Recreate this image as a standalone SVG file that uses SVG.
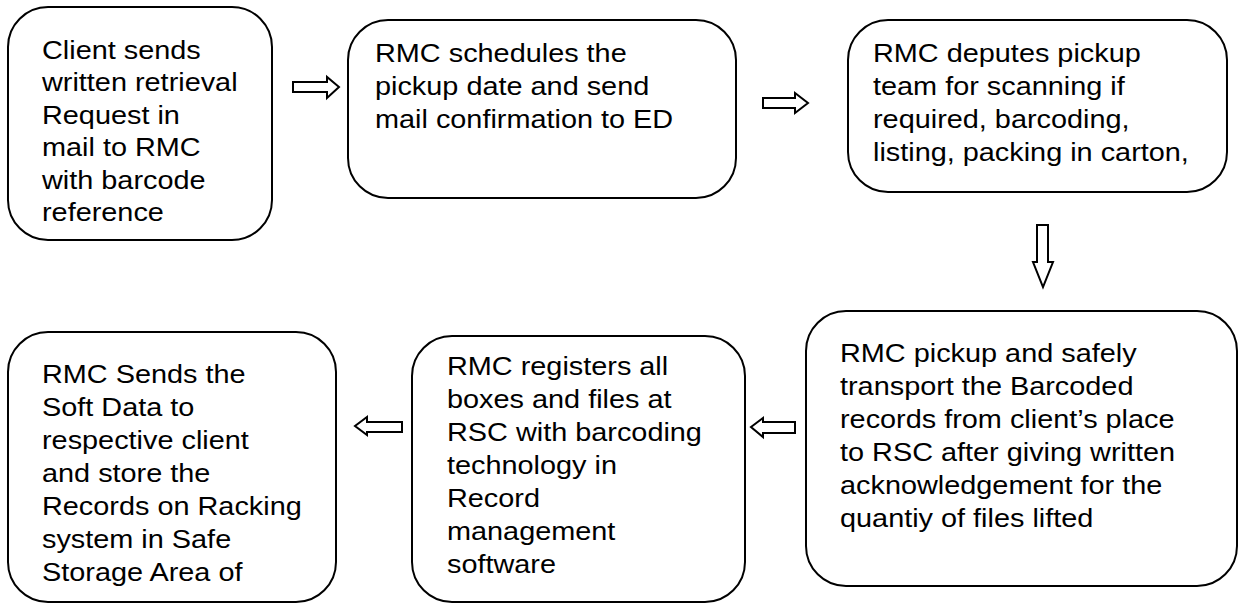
<svg xmlns="http://www.w3.org/2000/svg" width="1239" height="604" viewBox="0 0 1239 604">
<style>
.box{fill:#fff;stroke:#000;stroke-width:2}
.t{font-family:"Liberation Sans",Arial,sans-serif;font-size:26px;fill:#000}
.arr{fill:#fff;stroke:#000;stroke-width:2;stroke-linejoin:miter}
</style>
<rect width="1239" height="604" fill="#fff"/>
<g id="node1"><rect class="box" x="8" y="7" width="264" height="233" rx="40"/>
<text class="t" transform="translate(42,59) scale(1.11,1)"><tspan x="0" y="0">Client sends</tspan><tspan x="0" dy="32.5">written retrieval</tspan><tspan x="0" dy="32.5">Request in</tspan><tspan x="0" dy="32.5">mail to RMC</tspan><tspan x="0" dy="32.5">with barcode</tspan><tspan x="0" dy="32.5">reference</tspan></text></g>
<g id="node2"><rect class="box" x="348" y="20" width="388" height="178" rx="40"/>
<text class="t" transform="translate(375,62) scale(1.11,1)"><tspan x="0" y="0">RMC schedules the</tspan><tspan x="0" dy="33">pickup date and send</tspan><tspan x="0" dy="33">mail confirmation to ED</tspan></text></g>
<g id="node3"><rect class="box" x="848" y="20" width="379" height="172" rx="40"/>
<text class="t" transform="translate(873,62) scale(1.11,1)"><tspan x="0" y="0">RMC deputes pickup</tspan><tspan x="0" dy="33">team for scanning if</tspan><tspan x="0" dy="33">required, barcoding,</tspan><tspan x="0" dy="33">listing, packing in carton,</tspan></text></g>
<g id="node4"><rect class="box" x="806" y="311" width="431" height="275" rx="40"/>
<text class="t" transform="translate(840,362) scale(1.11,1)"><tspan x="0" y="0">RMC pickup and safely</tspan><tspan x="0" dy="33">transport the Barcoded</tspan><tspan x="0" dy="33">records from client’s place</tspan><tspan x="0" dy="33">to RSC after giving written</tspan><tspan x="0" dy="33">acknowledgement for the</tspan><tspan x="0" dy="33">quantiy of files lifted</tspan></text></g>
<g id="node5"><rect class="box" x="412" y="336" width="333" height="266" rx="40"/>
<text class="t" transform="translate(447,375) scale(1.11,1)"><tspan x="0" y="0">RMC registers all</tspan><tspan x="0" dy="33">boxes and files at</tspan><tspan x="0" dy="33">RSC with barcoding</tspan><tspan x="0" dy="33">technology in</tspan><tspan x="0" dy="33">Record</tspan><tspan x="0" dy="33">management</tspan><tspan x="0" dy="33">software</tspan></text></g>
<g id="node6"><rect class="box" x="8" y="332" width="328" height="270" rx="40"/>
<text class="t" transform="translate(42,383) scale(1.11,1)"><tspan x="0" y="0">RMC Sends the</tspan><tspan x="0" dy="33">Soft Data to</tspan><tspan x="0" dy="33">respective client</tspan><tspan x="0" dy="33">and store the</tspan><tspan x="0" dy="33">Records on Racking</tspan><tspan x="0" dy="33">system in Safe</tspan><tspan x="0" dy="33">Storage Area of</tspan></text></g>
<g id="connectors">
<polygon class="arr" points="293,82 327,82 327,77 339,87 327,98 327,92 293,92"/>
<polygon class="arr" points="763,98 795,98 795,93 808,103 795,113 795,108 763,108"/>
<polygon class="arr" points="1037,225 1048,225 1048,262 1053,262 1043,287 1033,262 1037,262"/>
<polygon class="arr" points="795,422 795,433 763,433 763,437 751,427 763,418 763,422"/>
<polygon class="arr" points="402,422 402,432 367,432 367,435 355,426 367,417 367,422"/>
</g>
</svg>
